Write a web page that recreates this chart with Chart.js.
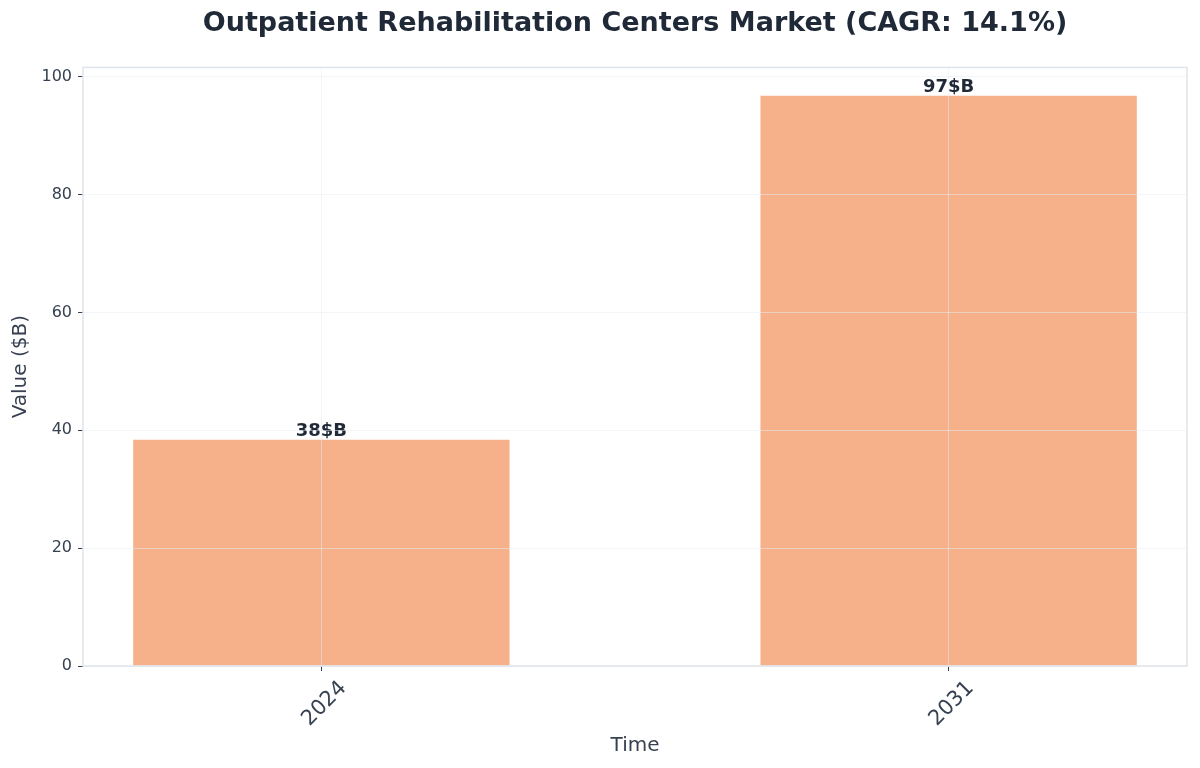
<!DOCTYPE html>
<html>
<head>
<meta charset="utf-8">
<script src="https://cdn.jsdelivr.net/npm/chart.js@4.4.1/dist/chart.umd.min.js"></script>
<style>
    html, body { margin: 0; padding: 0; background: #ffffff; }
    #wrap { width: 1200px; height: 768px; }
</style>
</head>
<body>
<div id="wrap"><canvas id="marketChart" width="1200" height="768"></canvas></div>
<script>
// Dados do grafico
const years = ['2024', '2031'];
const marketValues = [38.4, 96.8];
const yTicks = [0, 20, 40, 60, 80, 100];

const textDark = '#1f2937';
const textMid = '#374151';
const gridColor = 'rgba(232, 238, 244, 0.5)';
const frameColor = '#dfe5ea';

// Rotulos em cima das barras
const barLabels = {
    id: 'barLabels',
    afterDatasetsDraw(chart) {
        const ctx = chart.ctx;
        const meta = chart.getDatasetMeta(0);
        ctx.save();
        ctx.font = 'bold 18px "DejaVu Sans"';
        ctx.fillStyle = textDark;
        ctx.textAlign = 'center';
        ctx.textBaseline = 'bottom';
        meta.data.forEach((bar, i) => {
            ctx.fillText(Math.round(marketValues[i]) + '$B', bar.x, bar.y + 1);
        });
        ctx.restore();
    }
};

// Moldura em volta da area do grafico
const frame = {
    id: 'frame',
    afterDraw(chart) {
        const { left, top, right, bottom } = chart.chartArea;
        const ctx = chart.ctx;
        ctx.save();
        ctx.strokeStyle = frameColor;
        ctx.lineWidth = 1.5;
        ctx.strokeRect(left, top, right - left, bottom - top);
        ctx.restore();
    }
};

const ctx = document.getElementById('marketChart').getContext('2d');
const marketChart = new Chart(ctx, {
    type: 'bar',
    data: {
        datasets: [{
            data: marketValues.map((v, i) => ({ x: i, y: v })),
            backgroundColor: '#f6b08a',
            borderWidth: 0,
            categoryPercentage: 1,
            barPercentage: 0.6
        }]
    },
    options: {
        responsive: false,
        animation: false,
        devicePixelRatio: 1,
        layout: { padding: { left: 0, right: 13, top: 0, bottom: 0 } },
        plugins: {
            legend: { display: false },
            tooltip: { enabled: false },
            title: {
                display: true,
                fullSize: false,
                text: 'Outpatient Rehabilitation Centers Market (CAGR: 14.1%)',
                color: textDark,
                font: { family: 'DejaVu Sans', size: 27, weight: 'bold' },
                padding: { top: 8, bottom: 27 }
            }
        },
        scales: {
            x: {
                type: 'linear',
                min: -0.38,
                max: 1.38,
                offset: false,
                afterBuildTicks(scale) {
                    scale.ticks = years.map((y, i) => ({ value: i }));
                },
                afterFit(scale) { scale.height = 102; },
                ticks: {
                    color: textMid,
                    font: { family: 'DejaVu Sans', size: 21 },
                    minRotation: 45,
                    maxRotation: 45,
                    labelOffset: 22,
                    padding: 5,
                    callback: (value) => years[value]
                },
                grid: {
                    z: 1,
                    offset: false,
                    color: gridColor,
                    tickColor: '#374151',
                    tickLength: 5,
                    lineWidth: 1
                },
                border: { display: false },
                title: {
                    display: true,
                    text: 'Time',
                    color: textMid,
                    font: { family: 'DejaVu Sans', size: 20 },
                    padding: { top: 0, bottom: 10 }
                }
            },
            y: {
                min: 0,
                max: 101.6,
                afterBuildTicks(scale) {
                    scale.ticks = yTicks.map(v => ({ value: v }));
                },
                afterFit(scale) { scale.width = 83; },
                ticks: {
                    color: textMid,
                    font: { family: 'DejaVu Sans', size: 16 },
                    padding: 6
                },
                grid: {
                    z: 1,
                    color: gridColor,
                    tickColor: '#374151',
                    tickLength: 5,
                    lineWidth: 1
                },
                border: { display: false },
                title: {
                    display: true,
                    text: 'Value ($B)',
                    color: textMid,
                    font: { family: 'DejaVu Sans', size: 20 },
                    padding: { top: 9, bottom: 0 }
                }
            }
        }
    },
    plugins: [barLabels, frame]
});
</script>
</body>
</html>
